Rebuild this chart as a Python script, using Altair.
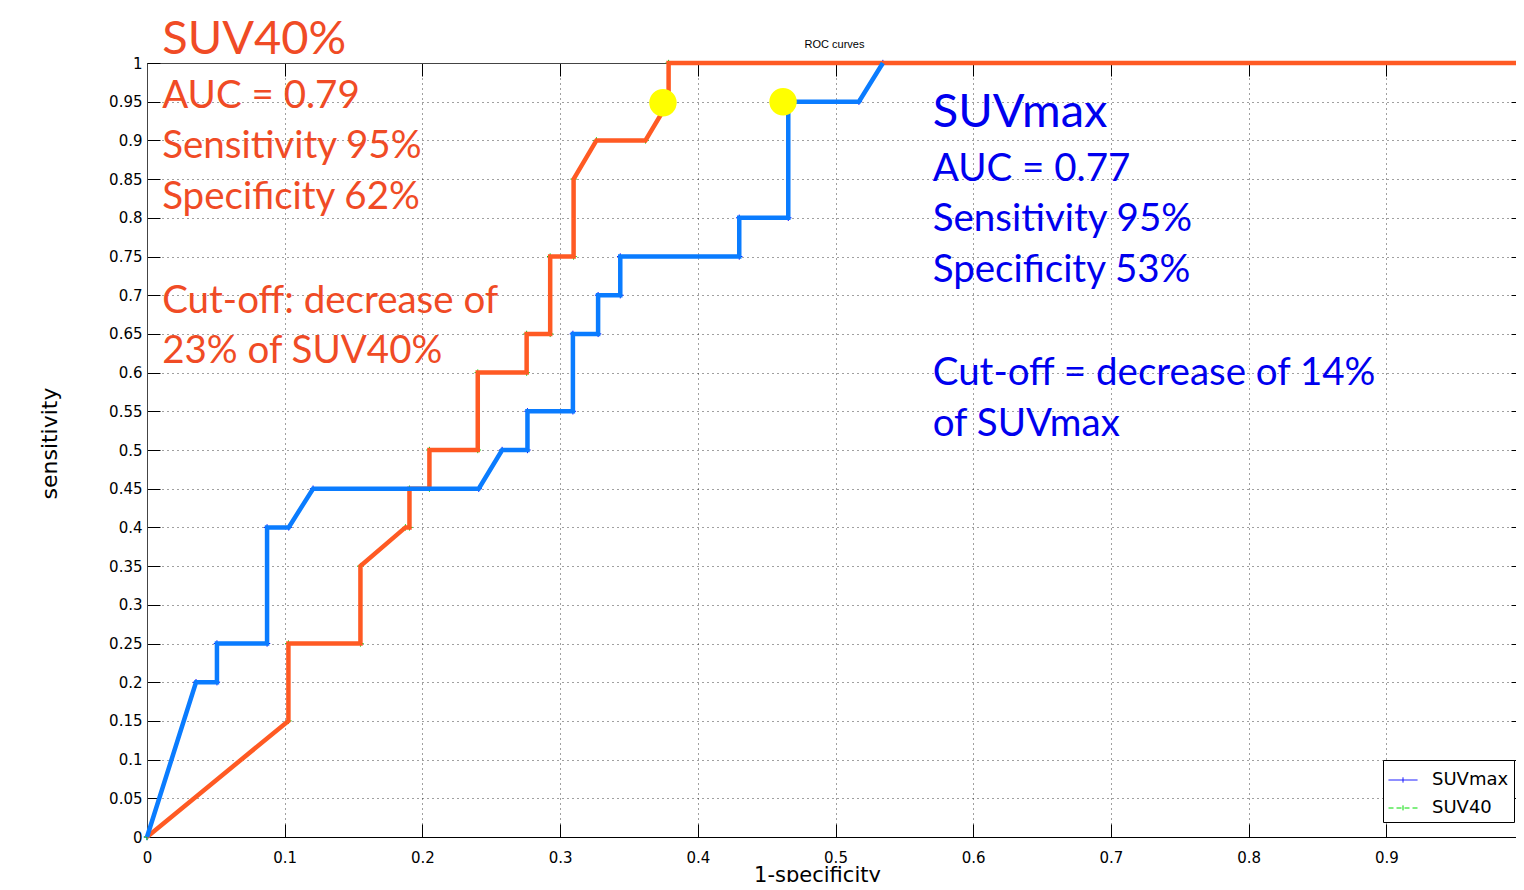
import altair as alt
import pandas as pd

# ---------------- data ----------------
# SUVmax ROC curve (blue) vertices
suvmax_x = [0.0, 0.0356, 0.0508, 0.0508, 0.0872, 0.0872, 0.1029, 0.1206, 0.2409, 0.2579,
            0.2763, 0.2763, 0.3093, 0.3093, 0.3276, 0.3276, 0.3437, 0.3437, 0.4301, 0.4301,
            0.4657, 0.4657, 0.517, 0.5344, 1.0]
suvmax_y = [0.0, 0.20, 0.20, 0.25, 0.25, 0.40, 0.40, 0.45, 0.45, 0.50,
            0.50, 0.55, 0.55, 0.65, 0.65, 0.70, 0.70, 0.75, 0.75, 0.80,
            0.80, 0.95, 0.95, 1.0, 1.0]

# SUV40 ROC curve (orange overlay / green matlab line) vertices
suv40_x = [0.0, 0.1027, 0.1027, 0.155, 0.155, 0.1877, 0.1906, 0.1906, 0.2051, 0.2051,
           0.2402, 0.2402, 0.2757, 0.2757, 0.2928, 0.2928, 0.3098, 0.3098, 0.3264, 0.362,
           0.3788, 0.3788, 1.0]
suv40_y = [0.0, 0.15, 0.25, 0.25, 0.35, 0.40, 0.40, 0.45, 0.45, 0.50,
           0.50, 0.60, 0.60, 0.65, 0.65, 0.75, 0.75, 0.85, 0.90, 0.90,
           0.95, 1.0, 1.0]

# optimal cut-off points (yellow dots)
cut_x = [0.3747, 0.4619]
cut_y = [0.9487, 0.95]

# annotation texts
orange_head = ["SUV40%"]
orange_head_x = [0.011]
orange_head_y = [1.011]
orange_lines = ["AUC = 0.79", "Sensitivity 95%", "Specificity 62%", "Cut-off: decrease of", "23% of SUV40%"]
orange_lines_x = [0.011, 0.011, 0.011, 0.011, 0.011]
orange_lines_y = [0.9415, 0.8773, 0.8114, 0.677, 0.6124]

blue_head = ["SUVmax"]
blue_head_x = [0.5706]
blue_head_y = [0.9177]
blue_lines = ["AUC = 0.77", "Sensitivity 95%", "Specificity 53%", "Cut-off = decrease of 14%", "of SUVmax"]
blue_lines_x = [0.5706, 0.5706, 0.5706, 0.5706, 0.5706]
blue_lines_y = [0.848, 0.7829, 0.7175, 0.5834, 0.5181]

x_ticks = [0, 0.1, 0.2, 0.3, 0.4, 0.5, 0.6, 0.7, 0.8, 0.9, 1]
y_ticks = [0, 0.05, 0.1, 0.15, 0.2, 0.25, 0.3, 0.35, 0.4, 0.45, 0.5,
           0.55, 0.6, 0.65, 0.7, 0.75, 0.8, 0.85, 0.9, 0.95, 1]

series_names = ["SUVmax", "SUV40"]

# ---------------- tables ----------------
df_max = pd.DataFrame({"x": suvmax_x, "y": suvmax_y, "i": range(len(suvmax_x)), "series": "SUVmax"})
df_40 = pd.DataFrame({"x": suv40_x, "y": suv40_y, "i": range(len(suv40_x)), "series": "SUV40"})
df_all = pd.concat([df_max, df_40], ignore_index=True)
df_cut = pd.DataFrame({"x": cut_x, "y": cut_y})

def tdf(t, xs, ys):
    return pd.DataFrame({"t": t, "x": xs, "y": ys})

XS = alt.Scale(domain=[0, 1], nice=False, zero=False)
YS = alt.Scale(domain=[0, 1], nice=False, zero=False)

ORANGE = "#FF5A23"
BLUE_LINE = "#0A7CFF"
ORANGE_TXT = "#F04B25"
BLUE_TXT = "#0000EE"
FONT_AX = "DejaVu Sans"
FONT_TXT = "Lato"

def xq(axis=None):
    return alt.X("x:Q", scale=XS, axis=axis)

def yq(axis=None):
    return alt.Y("y:Q", scale=YS, axis=axis)

# main axes (bottom / left) with grid, inward ticks
x_axis = alt.Axis(values=x_ticks, format="~g", labelFlush=False, labelOverlap=False,
                  labelFont=FONT_AX, labelFontSize=15, labelColor="#000", labelPadding=26,
                  tickSize={"expr": "-13"}, tickColor="#000", domainColor="#000",
                  grid=True, gridDash=[1, 4], gridColor="#000", gridOpacity=0.75,
                  title="1-specificity", titleFont=FONT_AX, titleFontSize=21,
                  titleFontWeight="normal", titleColor="#000", titleX=670, titleY=44,
                  titleAlign="center", titleBaseline="alphabetic")
y_axis = alt.Axis(values=y_ticks, format="~g", labelOverlap=False,
                  labelFont=FONT_AX, labelFontSize=15, labelColor="#000", labelPadding=18,
                  tickSize={"expr": "-13"}, tickColor="#000", domainColor="#444",
                  grid=True, gridDash=[1, 4], gridColor="#000", gridOpacity=0.75,
                  title="sensitivity", titleFont=FONT_AX, titleFontSize=22,
                  titleFontWeight="normal", titleColor="#000", titleAngle=270,
                  titleX=-91, titleY=380, titleAlign="center", titleBaseline="alphabetic")
# top / right tick-only axes (top one carries the small "ROC curves" title)
x_axis_top = alt.Axis(orient="top", values=x_ticks, labels=False, grid=False,
                      tickSize={"expr": "-13"}, tickColor="#000", domainColor="#444",
                      title="ROC curves", titleFont="Liberation Sans", titleFontSize=11,
                      titleFontWeight="normal", titleColor="#000", titleX=687, titleY=-16,
                      titleAlign="center", titleBaseline="alphabetic")
y_axis_right = alt.Axis(orient="right", values=y_ticks, labels=False, title=None, grid=False,
                        tickSize={"expr": "-13"}, tickColor="#000", domainColor="#444")

# layers carrying the axes (invisible marks)
axes_main = alt.Chart(df_all).mark_point(opacity=0).encode(x=xq(x_axis), y=yq(y_axis))
axes_box = alt.Chart(df_all).mark_point(opacity=0).encode(x=xq(x_axis_top), y=yq(y_axis_right))

# thin matlab lines (legend source)
thin = alt.Chart(df_all).mark_line(strokeWidth=1).encode(
    x=xq(), y=yq(), order="i:Q",
    color=alt.Color("series:N", scale=alt.Scale(domain=series_names, range=["#0000FF", "#00DD00"]),
                    legend=alt.Legend(title=None)),
    strokeDash=alt.StrokeDash("series:N", scale=alt.Scale(domain=series_names, range=[[1, 0], [5, 3]]),
                              legend=alt.Legend(title=None)),
)

PLUS = "M-1,0L1,0M0,-1L0,1"
marks_max = alt.Chart(df_max).mark_point(shape=PLUS, size=40, strokeWidth=1, filled=False,
                                         color="#0000FF", opacity=1).encode(x=xq(), y=yq())
marks_40 = alt.Chart(df_40).mark_point(shape=PLUS, size=40, strokeWidth=1, filled=False,
                                       color="#00DD00", opacity=1).encode(x=xq(), y=yq())

# thick hand-drawn overlays
thick_40 = alt.Chart(df_40).mark_line(strokeWidth=4.5, color=ORANGE, strokeJoin="miter").encode(
    x=xq(), y=yq(), order="i:Q")
thick_max = alt.Chart(df_max).transform_filter("datum.x < 0.99").mark_line(
    strokeWidth=4.5, color=BLUE_LINE, strokeJoin="miter").encode(x=xq(), y=yq(), order="i:Q")

dots = alt.Chart(df_cut).mark_circle(size=755, color="#FFFF00", opacity=1).encode(x=xq(), y=yq())

def txt(df, color, size):
    return alt.Chart(df).mark_text(align="left", baseline="alphabetic", font=FONT_TXT,
                                   fontSize=size, color=color).encode(x=xq(), y=yq(), text="t:N")

t1 = txt(tdf(orange_head, orange_head_x, orange_head_y), ORANGE_TXT, 47)
t2 = txt(tdf(orange_lines, orange_lines_x, orange_lines_y), ORANGE_TXT, 38.5)
t3 = txt(tdf(blue_head, blue_head_x, blue_head_y), BLUE_TXT, 47)
t4 = txt(tdf(blue_lines, blue_lines_x, blue_lines_y), BLUE_TXT, 38.5)

chart = alt.layer(
    axes_main, axes_box, thin, marks_max, marks_40, thick_40, thick_max, dots, t1, t2, t3, t4
).resolve_axis(x="independent", y="independent").properties(
    width=1377, height=774,
    autosize=alt.AutoSizeParams(type="none"),
    padding={"left": 139, "top": 55, "right": -8, "bottom": 45},
    background="white",
).configure_view(stroke="#222", strokeWidth=1).configure_legend(
    orient="none", legendX=1236, legendY=697, padding=5, strokeColor="#000", fillColor="#fff",
    labelFont=FONT_AX, labelFontSize=18, labelColor="#000", symbolType="M-1,0L1,0M0,-0.18L0,0.18",
    symbolSize=841, symbolStrokeWidth=1, labelOffset=14, rowPadding=4, cornerRadius=0,
)

chart.save("out.html", embed_options={"renderer": "svg", "actions": False})
